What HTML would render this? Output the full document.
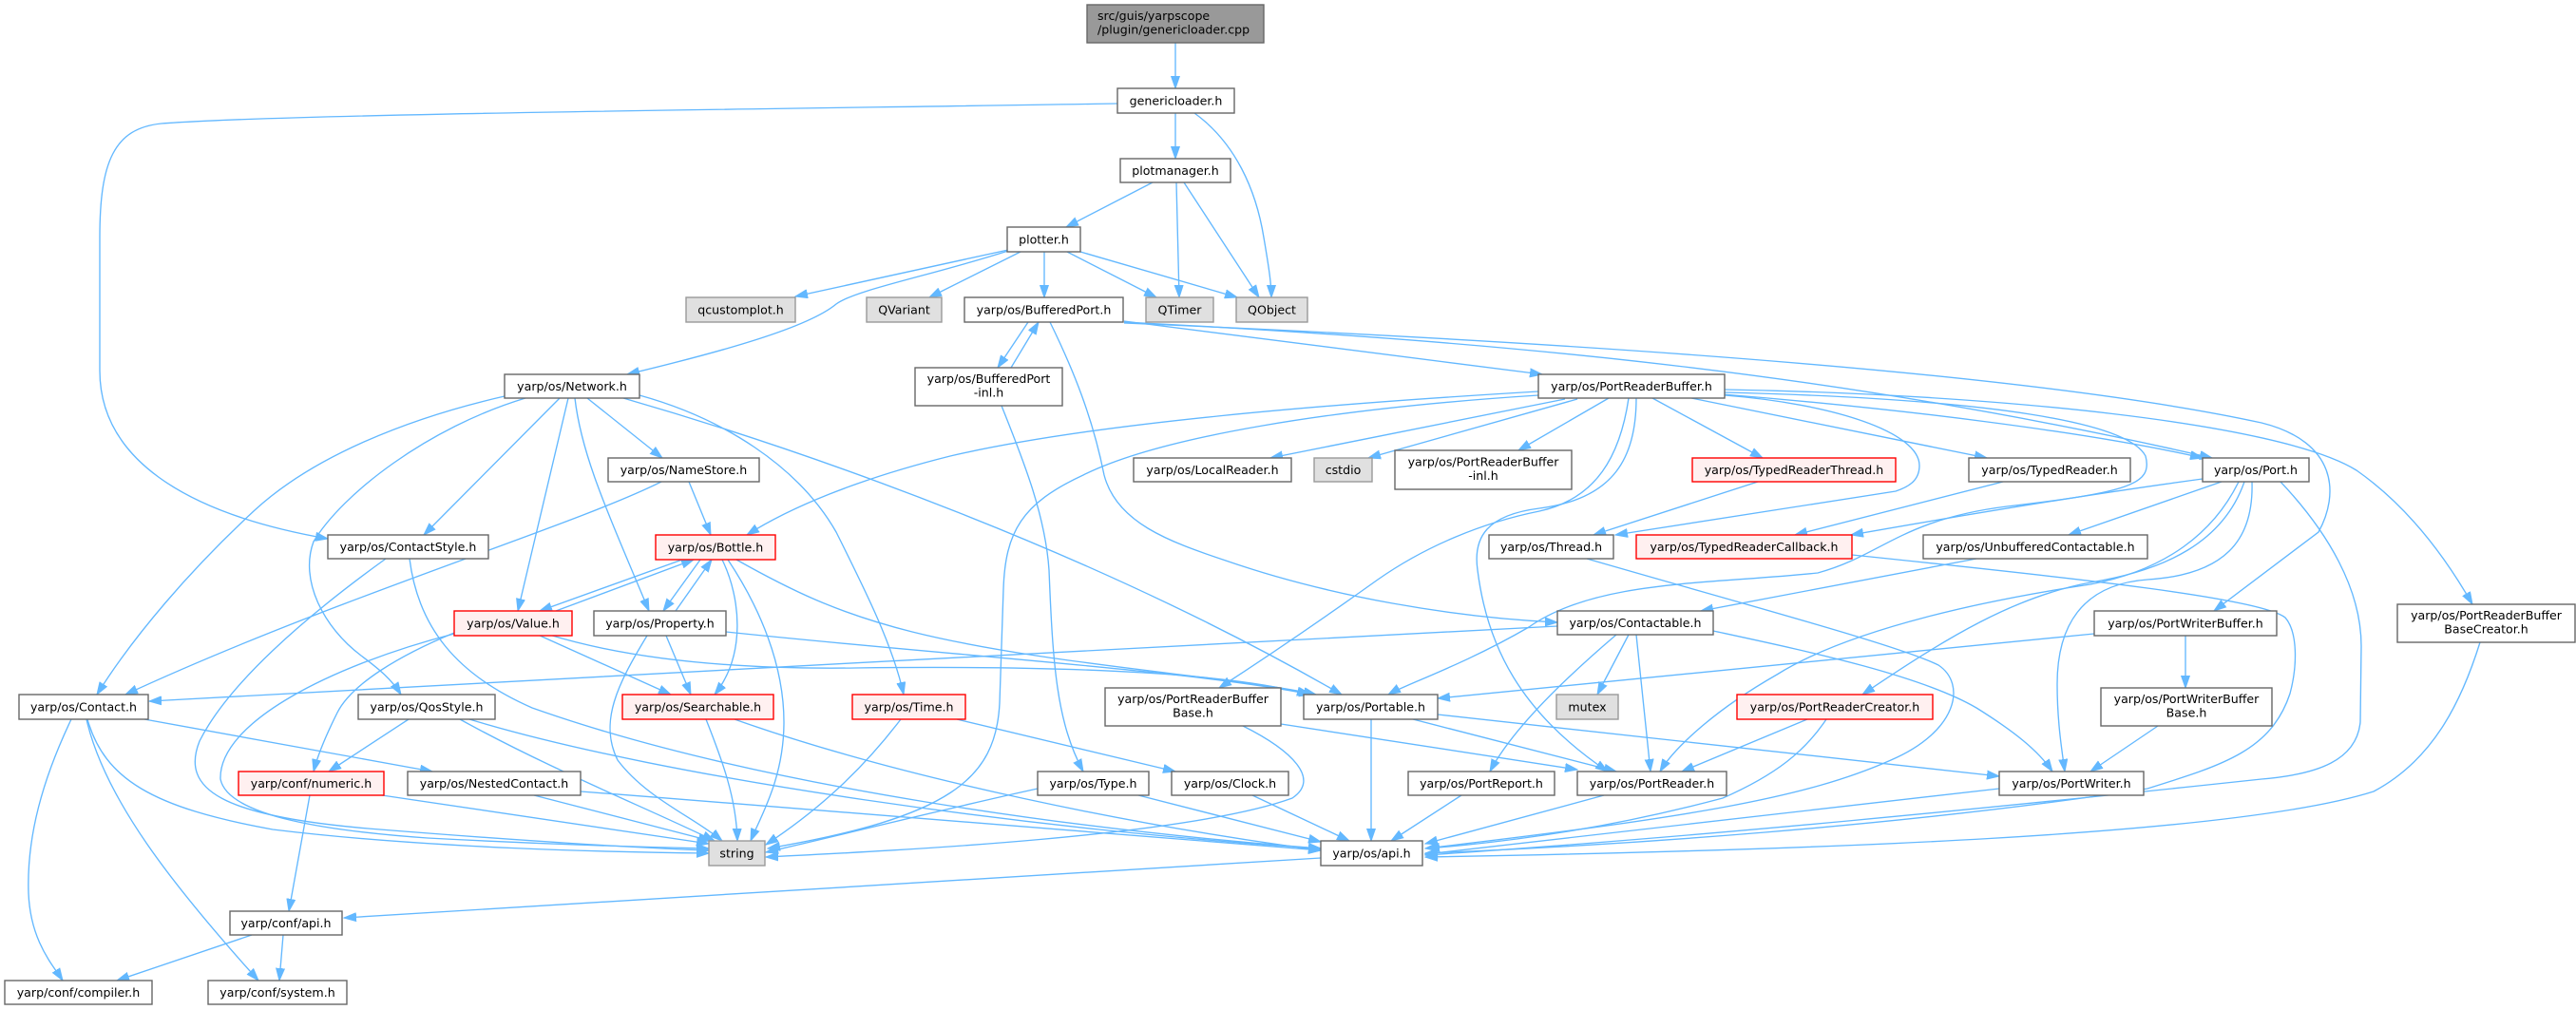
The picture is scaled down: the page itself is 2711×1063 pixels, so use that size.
<!DOCTYPE html>
<html><head><meta charset="utf-8"><style>
html,body{margin:0;padding:0;background:#fff;}
svg{display:block;}
.e{fill:none;stroke:#63b8ff;stroke-width:1.35;marker-end:url(#a);}
.n rect{fill:#fff;stroke:#666;stroke-width:1.4;}
.g rect{fill:#e0e0e0;stroke:#999;stroke-width:1.4;}
.r rect{fill:#fff0f0;stroke:#f00;stroke-width:1.4;}
text{font-family:"DejaVu Sans","Liberation Sans",sans-serif;font-size:12.6px;fill:#000;text-anchor:middle;}
</style></head><body>
<svg width="2711" height="1063" viewBox="0 0 2711 1063" xmlns="http://www.w3.org/2000/svg">
<defs><marker id="a" markerWidth="14" markerHeight="10" refX="13" refY="5" orient="auto" markerUnits="userSpaceOnUse"><path d="M0,0.5 L13,5 L0,9.5 z" fill="#63b8ff" stroke="#63b8ff" stroke-width="1"/></marker></defs>
<g>
<path class="e" d="M1237,45 L1237,93"/>
<path class="e" d="M1237,119 L1237,167"/>
<path class="e" d="M1257,119 C1300,150 1322,200 1330,250 C1336,285 1338,300 1338,313"/>
<path class="e" d="M1176,109 C800,115 300,120 170,130 C120,135 105,170 105,250 L105,390 C105,480 190,540 345,567"/>
<path class="e" d="M1213,192 L1122,239"/>
<path class="e" d="M1238,192 L1241,313"/>
<path class="e" d="M1246,192 L1325,313"/>
<path class="e" d="M1061,263 L837,312"/>
<path class="e" d="M1074,265 L978,313"/>
<path class="e" d="M1099,265 L1099,313"/>
<path class="e" d="M1123,265 L1217,313"/>
<path class="e" d="M1137,265 L1302,313"/>
<path class="e" d="M1061,264 C980,290 900,305 880,320 C850,345 760,370 660,394"/>
<path class="e" d="M1082,339 L1050,387"/>
<path class="e" d="M1064,387 L1093,339"/>
<path class="e" d="M1183,338 L1623,394"/>
<path class="e" d="M1183,339 C1600,360 1950,395 2328,482"/>
<path class="e" d="M1183,340 C1700,362 2150,395 2380,445 C2460,465 2462,520 2440,560 L2330,643"/>
<path class="e" d="M1105,339 C1130,390 1150,440 1162,500 C1175,550 1230,570 1290,590 C1400,628 1530,650 1639,655"/>
<path class="e" d="M1054,427 C1075,480 1100,540 1104,600 C1108,700 1112,760 1140,812"/>
<path class="e" d="M531,417 C430,440 330,480 268,537 C200,600 140,670 102,731"/>
<path class="e" d="M589,419 L446,563"/>
<path class="e" d="M598,419 L545,643"/>
<path class="e" d="M605,419 C612,480 640,540 683,643"/>
<path class="e" d="M618,419 L697,482"/>
<path class="e" d="M553,419 C450,450 360,520 330,570 C315,610 340,660 380,690 C400,705 412,715 422,731"/>
<path class="e" d="M656,419 C850,475 1150,580 1412,731"/>
<path class="e" d="M673,416 C760,440 840,490 880,560 C910,620 940,680 951,731"/>
<path class="e" d="M725,507 L748,563"/>
<path class="e" d="M696,507 C600,555 350,630 132,731"/>
<path class="e" d="M406,588 C320,650 240,720 210,780 C190,830 230,860 400,873 C550,885 680,893 746,895"/>
<path class="e" d="M431,588 C440,660 480,710 560,745 C800,830 1150,875 1390,893"/>
<path class="e" d="M585,643 L730,589"/>
<path class="e" d="M718,589 L568,643"/>
<path class="e" d="M566,668 L706,731"/>
<path class="e" d="M578,668 C650,690 750,705 900,703 C1150,700 1300,710 1378,731"/>
<path class="e" d="M478,667 C350,700 230,760 232,820 C240,860 350,875 450,882 C600,890 700,892 746,893"/>
<path class="e" d="M478,666 C420,690 370,720 355,750 C340,780 333,800 330,812"/>
<path class="e" d="M737,589 L698,643"/>
<path class="e" d="M711,643 L749,589"/>
<path class="e" d="M760,589 C780,630 785,690 752,731"/>
<path class="e" d="M766,589 C800,640 825,700 825,760 C825,820 800,860 790,885"/>
<path class="e" d="M775,589 C830,620 880,645 960,665 C1100,700 1300,712 1385,731"/>
<path class="e" d="M701,669 L727,731"/>
<path class="e" d="M681,669 C650,720 630,760 650,800 C680,840 730,860 760,885"/>
<path class="e" d="M764,665 C1000,690 1250,705 1380,731"/>
<path class="e" d="M743,757 C760,800 775,840 776,885"/>
<path class="e" d="M773,757 C950,820 1200,870 1390,895"/>
<path class="e" d="M948,757 C900,820 850,860 806,889"/>
<path class="e" d="M1007,757 L1237,812"/>
<path class="e" d="M1092,830 C1000,850 880,880 806,897"/>
<path class="e" d="M1198,837 L1390,886"/>
<path class="e" d="M1318,837 L1420,885"/>
<path class="e" d="M75,757 C45,820 28,880 30,940 C32,990 55,1015 66,1032"/>
<path class="e" d="M91,757 C110,840 180,930 272,1032"/>
<path class="e" d="M152,757 L455,812"/>
<path class="e" d="M92,757 C110,820 160,850 287,873 C450,893 650,897 746,898"/>
<path class="e" d="M430,757 L346,812"/>
<path class="e" d="M484,757 C580,810 680,850 752,885"/>
<path class="e" d="M494,757 C700,820 1100,875 1390,893"/>
<path class="e" d="M562,837 L748,885"/>
<path class="e" d="M611,833 C900,855 1200,880 1390,895"/>
<path class="e" d="M402,837 L746,888"/>
<path class="e" d="M326,837 L304,959"/>
<path class="e" d="M265,984 L123,1032"/>
<path class="e" d="M298,984 L294,1032"/>
<path class="e" d="M1390,903 L362,966"/>
<path class="e" d="M1647,420 L1337,482"/>
<path class="e" d="M1660,420 L1440,482"/>
<path class="e" d="M1693,419 L1598,474"/>
<path class="e" d="M1739,419 L1855,482"/>
<path class="e" d="M1780,419 L2091,482"/>
<path class="e" d="M1813,415 C2000,430 2200,455 2318,482"/>
<path class="e" d="M1619,412 C1400,425 1150,445 1000,480 C900,505 830,535 786,563"/>
<path class="e" d="M1619,416 C1400,430 1220,460 1140,500 C1075,530 1058,560 1056,620 L1052,740 C1048,820 1000,860 808,893"/>
<path class="e" d="M1714,419 C1705,480 1680,525 1620,538 C1560,550 1500,575 1450,610 C1380,660 1320,700 1283,724"/>
<path class="e" d="M1722,419 C1722,480 1700,525 1620,535 C1565,542 1550,565 1555,600 C1565,680 1600,750 1692,812"/>
<path class="e" d="M1815,416 C1930,425 2020,455 2020,490 C2020,505 2010,512 1995,517 L1700,563"/>
<path class="e" d="M1815,413 C2100,420 2240,445 2258,480 C2266,510 2240,518 2112,533 C2000,547 1980,585 1913,603 C1800,615 1680,610 1609,660 C1540,700 1480,720 1461,731"/>
<path class="e" d="M1815,410 C2100,415 2400,445 2480,495 C2530,530 2570,580 2602,636"/>
<path class="e" d="M1850,507 L1677,563"/>
<path class="e" d="M2108,507 L1889,563"/>
<path class="e" d="M2338,507 L2177,563"/>
<path class="e" d="M2318,504 C2200,520 2050,545 1948,563"/>
<path class="e" d="M2362,507 C2340,570 2280,600 2200,613 C2120,628 2050,670 1960,731"/>
<path class="e" d="M2370,507 C2372,570 2340,605 2260,610 C2190,615 2165,660 2165,720 C2165,760 2170,790 2173,812"/>
<path class="e" d="M2356,507 C2330,560 2280,600 2200,615 C2100,630 1950,660 1870,710 C1800,750 1760,790 1747,812"/>
<path class="e" d="M2400,507 C2450,560 2485,620 2485,680 L2484,760 C2480,800 2440,815 2380,820 C2100,850 1800,880 1500,900"/>
<path class="e" d="M2080,588 L1790,643"/>
<path class="e" d="M1949,584 C2200,610 2380,630 2405,650 C2418,665 2418,700 2410,730 C2390,790 2340,805 2260,830 C2000,870 1700,890 1500,898"/>
<path class="e" d="M1670,588 C1850,640 2000,680 2040,700 C2070,720 2060,770 1990,800 C1900,840 1780,860 1500,893"/>
<path class="e" d="M2610,676 C2590,740 2560,800 2498,833 C2350,880 1900,895 1500,902"/>
<path class="e" d="M1639,659 C1200,680 600,715 157,738"/>
<path class="e" d="M1701,668 C1640,720 1590,770 1568,812"/>
<path class="e" d="M1714,668 L1681,731"/>
<path class="e" d="M1722,668 L1737,812"/>
<path class="e" d="M1803,664 C1900,685 2020,710 2080,745 C2120,770 2145,790 2160,812"/>
<path class="e" d="M2204,667 L1513,735"/>
<path class="e" d="M2300,669 L2300,724"/>
<path class="e" d="M2271,764 L2200,812"/>
<path class="e" d="M1902,757 L1770,812"/>
<path class="e" d="M1922,757 C1900,790 1870,815 1813,840 C1700,870 1600,885 1502,893"/>
<path class="e" d="M2104,830 L1500,899"/>
<path class="e" d="M1443,757 L1443,885"/>
<path class="e" d="M1487,757 L1701,812"/>
<path class="e" d="M1513,752 L2104,817"/>
<path class="e" d="M1538,837 L1464,885"/>
<path class="e" d="M1688,837 L1500,888"/>
<path class="e" d="M1308,764 C1360,790 1390,820 1360,840 C1250,880 950,895 806,902"/>
<path class="e" d="M1348,762 L1660,810"/>
</g>

<g class="n"><rect x="1144" y="5" width="186" height="40" style="fill:#999;stroke:#666"/><text x="1155" y="21" style="text-anchor:start">src/guis/yarpscope</text><text x="1155" y="35.5" style="text-anchor:start">/plugin/genericloader.cpp</text></g>
<g class="n"><rect x="1176" y="93" width="123" height="26"/><text x="1237.5" y="110.5">genericloader.h</text></g>
<g class="n"><rect x="1179" y="167" width="116" height="25"/><text x="1237" y="184">plotmanager.h</text></g>
<g class="n"><rect x="1060" y="239" width="77" height="26"/><text x="1098.5" y="256.5">plotter.h</text></g>
<g class="g"><rect x="722" y="313" width="115" height="26"/><text x="779.5" y="330.5">qcustomplot.h</text></g>
<g class="g"><rect x="912" y="313" width="79" height="26"/><text x="951.5" y="330.5">QVariant</text></g>
<g class="n"><rect x="1015" y="313" width="167" height="26"/><text x="1098.5" y="330.5">yarp/os/BufferedPort.h</text></g>
<g class="g"><rect x="1206" y="313" width="71" height="26"/><text x="1241.5" y="330.5">QTimer</text></g>
<g class="g"><rect x="1301" y="313" width="75" height="26"/><text x="1338.5" y="330.5">QObject</text></g>
<g class="n"><rect x="963" y="387" width="155" height="40"/><text x="1040.5" y="403">yarp/os/BufferedPort</text><text x="1040.5" y="417.5">-inl.h</text></g>
<g class="n"><rect x="531" y="394" width="142" height="25"/><text x="602" y="411">yarp/os/Network.h</text></g>
<g class="n"><rect x="1619" y="394" width="196" height="25"/><text x="1717" y="411">yarp/os/PortReaderBuffer.h</text></g>
<g class="n"><rect x="640" y="482" width="159" height="25"/><text x="719.5" y="499">yarp/os/NameStore.h</text></g>
<g class="n"><rect x="1193" y="482" width="166" height="25"/><text x="1276" y="499">yarp/os/LocalReader.h</text></g>
<g class="g"><rect x="1383" y="482" width="61" height="25"/><text x="1413.5" y="499">cstdio</text></g>
<g class="n"><rect x="1468" y="474" width="186" height="41"/><text x="1561" y="490.5">yarp/os/PortReaderBuffer</text><text x="1561" y="505">-inl.h</text></g>
<g class="r"><rect x="1781" y="482" width="214" height="25"/><text x="1888" y="499">yarp/os/TypedReaderThread.h</text></g>
<g class="n"><rect x="2072" y="482" width="170" height="25"/><text x="2157" y="499">yarp/os/TypedReader.h</text></g>
<g class="n"><rect x="2318" y="482" width="112" height="25"/><text x="2374" y="499">yarp/os/Port.h</text></g>
<g class="n"><rect x="345" y="563" width="169" height="25"/><text x="429.5" y="580">yarp/os/ContactStyle.h</text></g>
<g class="r"><rect x="690" y="563" width="126" height="26"/><text x="753" y="580.5">yarp/os/Bottle.h</text></g>
<g class="n"><rect x="1567" y="563" width="131" height="25"/><text x="1632.5" y="580">yarp/os/Thread.h</text></g>
<g class="r"><rect x="1722" y="563" width="227" height="25"/><text x="1835.5" y="580">yarp/os/TypedReaderCallback.h</text></g>
<g class="n"><rect x="2024" y="563" width="236" height="25"/><text x="2142" y="580">yarp/os/UnbufferedContactable.h</text></g>
<g class="r"><rect x="478" y="643" width="124" height="26"/><text x="540" y="660.5">yarp/os/Value.h</text></g>
<g class="n"><rect x="625" y="643" width="139" height="26"/><text x="694.5" y="660.5">yarp/os/Property.h</text></g>
<g class="n"><rect x="1639" y="643" width="164" height="25"/><text x="1721" y="660">yarp/os/Contactable.h</text></g>
<g class="n"><rect x="2204" y="643" width="192" height="26"/><text x="2300" y="660.5">yarp/os/PortWriterBuffer.h</text></g>
<g class="n"><rect x="2523" y="636" width="187" height="40"/><text x="2616.5" y="652">yarp/os/PortReaderBuffer</text><text x="2616.5" y="666.5">BaseCreator.h</text></g>
<g class="n"><rect x="20" y="731" width="136" height="26"/><text x="88" y="748.5">yarp/os/Contact.h</text></g>
<g class="n"><rect x="377" y="731" width="144" height="26"/><text x="449" y="748.5">yarp/os/QosStyle.h</text></g>
<g class="r"><rect x="655" y="731" width="159" height="26"/><text x="734.5" y="748.5">yarp/os/Searchable.h</text></g>
<g class="r"><rect x="897" y="731" width="119" height="26"/><text x="956.5" y="748.5">yarp/os/Time.h</text></g>
<g class="n"><rect x="1163" y="724" width="185" height="40"/><text x="1255.5" y="740">yarp/os/PortReaderBuffer</text><text x="1255.5" y="754.5">Base.h</text></g>
<g class="n"><rect x="1372" y="731" width="141" height="26"/><text x="1442.5" y="748.5">yarp/os/Portable.h</text></g>
<g class="g"><rect x="1638" y="731" width="65" height="26"/><text x="1670.5" y="748.5">mutex</text></g>
<g class="r"><rect x="1828" y="731" width="206" height="26"/><text x="1931" y="748.5">yarp/os/PortReaderCreator.h</text></g>
<g class="n"><rect x="2211" y="724" width="180" height="40"/><text x="2301" y="740">yarp/os/PortWriterBuffer</text><text x="2301" y="754.5">Base.h</text></g>
<g class="r"><rect x="251" y="812" width="153" height="25"/><text x="327.5" y="829">yarp/conf/numeric.h</text></g>
<g class="n"><rect x="429" y="812" width="182" height="25"/><text x="520" y="829">yarp/os/NestedContact.h</text></g>
<g class="n"><rect x="1092" y="812" width="117" height="25"/><text x="1150.5" y="829">yarp/os/Type.h</text></g>
<g class="n"><rect x="1233" y="812" width="123" height="25"/><text x="1294.5" y="829">yarp/os/Clock.h</text></g>
<g class="n"><rect x="1482" y="812" width="154" height="25"/><text x="1559" y="829">yarp/os/PortReport.h</text></g>
<g class="n"><rect x="1660" y="812" width="157" height="25"/><text x="1738.5" y="829">yarp/os/PortReader.h</text></g>
<g class="n"><rect x="2104" y="812" width="152" height="25"/><text x="2180" y="829">yarp/os/PortWriter.h</text></g>
<g class="g"><rect x="746" y="885" width="59" height="26"/><text x="775.5" y="902.5">string</text></g>
<g class="n"><rect x="1390" y="885" width="107" height="26"/><text x="1443.5" y="902.5">yarp/os/api.h</text></g>
<g class="n"><rect x="242" y="959" width="118" height="25"/><text x="301" y="976">yarp/conf/api.h</text></g>
<g class="n"><rect x="5" y="1032" width="155" height="25"/><text x="82.5" y="1049">yarp/conf/compiler.h</text></g>
<g class="n"><rect x="219" y="1032" width="146" height="25"/><text x="292" y="1049">yarp/conf/system.h</text></g>
</svg>
</body></html>
